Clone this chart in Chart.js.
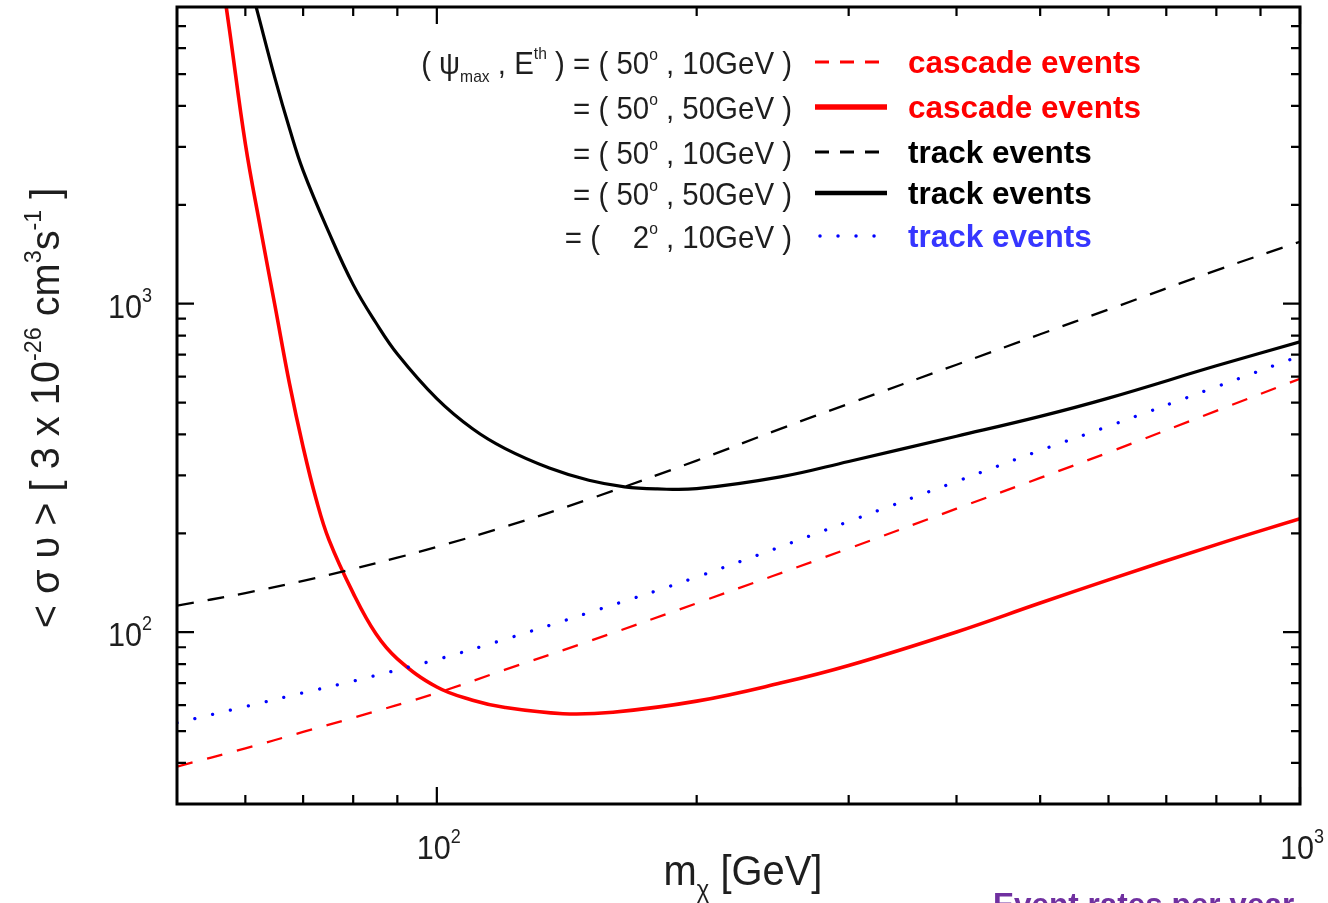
<!DOCTYPE html>
<html>
<head>
<meta charset="utf-8">
<script src="https://cdn.jsdelivr.net/npm/chart.js@4/dist/chart.umd.min.js"></script>
<style>
  html, body { margin: 0; padding: 0; background: #fff; }
  canvas { display: block; }
</style>
</head>
<body>
<canvas id="chart" width="1328" height="903"></canvas>
<script>
// dark matter mass grid (GeV) and <sigma v> limits
const massLin = [50, 60, 70, 80, 100, 120, 150, 200, 300, 400, 500, 600, 800, 1000];
const cascadeDash = [39.0, 44.3, 49.7, 54.9, 65.3, 76.9, 93.8, 122.5, 179.8, 237.7, 294.9, 352.6, 471.7, 591];
const trackDot = [53.0, 59.4, 65.4, 71.0, 82.6, 95.2, 114.7, 147.2, 217.3, 287.7, 357.4, 423.6, 558.5, 693];

const massTrackDash = [50, 60, 70, 80, 90, 100, 120, 150, 200, 250, 300, 400, 500, 600, 800, 1000];
const trackDash = [120.4, 131.6, 143.4, 155.8, 168.6, 181.8, 209.5, 254, 333, 416, 496, 652, 807, 960, 1263, 1544];

const massTrackSolid = [60, 62, 65, 67.5, 70, 75, 80, 85, 90, 100, 110, 120, 135, 150, 165, 180, 200, 250, 300, 400, 500, 600, 800, 1000];
const trackSolid = [10700, 7690, 4808, 3412, 2541, 1645, 1143, 875, 703, 514, 416, 362, 316, 290, 277, 273, 273.5, 297, 331, 395, 454, 516, 647, 766];

const massCascadeSolid = [56, 57.5, 60, 62.5, 65, 67.5, 70, 72.5, 75, 80, 85, 90, 100, 110, 120, 140, 160, 200, 250, 300, 400, 500, 600, 800, 1000];
const cascadeSolid = [11100, 6850, 3069, 1685, 972, 571, 366, 253, 191, 131.5, 98.9, 83.0, 68.1, 62.1, 59.0, 56.5, 57.1, 61.7, 70.0, 79.2, 100.2, 122.7, 144.3, 184.8, 221.6];

// axis ticks
const xMajor = [100, 1000];
const xMinor = [60, 70, 80, 90, 200, 300, 400, 500, 600, 700, 800, 900];
const yMajor = [100, 1000];
const yMinor = [40, 50, 60, 70, 80, 90, 200, 300, 400, 500, 600, 700, 800, 900, 2000, 3000, 4000, 5000, 6000, 7000];
const xTickLabels = ['2', '3'];   // exponents of 10
const yTickLabels = ['2', '3'];

const FONT = '"Liberation Sans", Arial, Helvetica, sans-serif';

function pts(xs, ys) {
  return xs.map((x, i) => ({ x: x, y: ys[i] }));
}

// draw a run of text pieces (sub/superscripts) in one go
function drawRich(ctx, segs, x, y, align, sx) {
  sx = sx || 1;
  let w = 0;
  segs.forEach(s => {
    ctx.font = (s.bold ? 'bold ' : '') + s.size + 'px ' + FONT;
    s.w = ctx.measureText(s.t).width;
    w += s.w;
  });
  let cx = align === 'right' ? -w : align === 'center' ? -w / 2 : 0;
  ctx.save();
  ctx.translate(x, y);
  ctx.scale(sx, 1);
  ctx.textAlign = 'left';
  ctx.textBaseline = 'alphabetic';
  segs.forEach(s => {
    ctx.font = (s.bold ? 'bold ' : '') + s.size + 'px ' + FONT;
    ctx.fillStyle = s.color || '#1e1e1e';
    ctx.fillText(s.t, cx, s.dy || 0);
    cx += s.w;
  });
  ctx.restore();
  return w * sx;
}

function pow10(exp) {
  return [{ t: '10', size: 34 }, { t: exp, size: 20, dy: -16 }];
}

const framePlugin = {
  id: 'frame',
  afterDatasetsDraw(chart) {
    const ctx = chart.ctx;
    const a = chart.chartArea;
    const xs = chart.scales.x, ys = chart.scales.y;
    ctx.save();
    ctx.strokeStyle = '#000';
    ctx.lineWidth = 2.2;
    ctx.beginPath();
    const tick = (v, len, horiz) => {
      if (horiz) {
        const p = xs.getPixelForValue(v);
        ctx.moveTo(p, a.bottom); ctx.lineTo(p, a.bottom - len);
        ctx.moveTo(p, a.top); ctx.lineTo(p, a.top + len);
      } else {
        const p = ys.getPixelForValue(v);
        ctx.moveTo(a.left, p); ctx.lineTo(a.left + len, p);
        ctx.moveTo(a.right, p); ctx.lineTo(a.right - len, p);
      }
    };
    xMajor.forEach(v => tick(v, 17, true));
    xMinor.forEach(v => tick(v, 9, true));
    yMajor.forEach(v => tick(v, 17, false));
    yMinor.forEach(v => tick(v, 9, false));
    ctx.stroke();
    ctx.lineWidth = 3;
    ctx.strokeRect(a.left, a.top, a.right - a.left, a.bottom - a.top);
    ctx.restore();
  },
  afterDraw(chart) {
    const ctx = chart.ctx;
    const xs = chart.scales.x, ys = chart.scales.y;

    // tick labels
    xMajor.forEach((v, i) => drawRich(ctx, pow10(xTickLabels[i]), xs.getPixelForValue(v) + 2, 859, 'center', 0.9));
    yMajor.forEach((v, i) => drawRich(ctx, pow10(yTickLabels[i]), 152, ys.getPixelForValue(v) + 14, 'right', 0.9));

    // x title
    drawRich(ctx, [
      { t: 'm', size: 42 },
      { t: 'χ', size: 25, dy: 13 },
      { t: ' [GeV]', size: 42 }
    ], 743, 885, 'center', 0.95);

    // y title
    ctx.save();
    ctx.translate(59, 408);
    ctx.rotate(-Math.PI / 2);
    drawRich(ctx, [
      { t: '< σ υ > [ 3 x 10', size: 41 },
      { t: '-26', size: 24, dy: -18 },
      { t: ' cm', size: 41 },
      { t: '3', size: 24, dy: -18 },
      { t: 's', size: 41 },
      { t: '-1', size: 24, dy: -18 },
      { t: ' ]', size: 41 }
    ], 0, 0, 'center', 0.97);
    ctx.restore();

    // legend
    const rows = [62, 107, 152, 193, 236];
    const S = 32, s = 17;
    drawRich(ctx, [
      { t: '( ψ', size: S },
      { t: 'max', size: s, dy: 8 },
      { t: ' , E', size: S },
      { t: 'th', size: s, dy: -15 },
      { t: ' ) = ( 50', size: S },
      { t: 'o', size: s, dy: -14 },
      { t: ' , 10GeV )', size: S }
    ], 792, rows[0] + 12, 'right', 0.92);
    const eq = [['50', '50GeV'], ['50', '10GeV'], ['50', '50GeV'], ['   2', '10GeV']];
    eq.forEach((e, i) => drawRich(ctx, [
      { t: '= ( ' + e[0], size: S },
      { t: 'o', size: s, dy: -14 },
      { t: ' , ' + e[1] + ' )', size: S }
    ], 792, rows[i + 1] + 12, 'right', 0.92));

    const samples = [
      { color: '#ff0000', width: 3, dash: [14, 11], cap: 'butt' },
      { color: '#ff0000', width: 5.5, dash: [], cap: 'butt' },
      { color: '#000000', width: 3, dash: [14, 11], cap: 'butt' },
      { color: '#000000', width: 4.5, dash: [], cap: 'butt' },
      { color: '#0000ff', width: 3.5, dash: [0.01, 18], cap: 'round' }
    ];
    samples.forEach((m, i) => {
      ctx.save();
      ctx.strokeStyle = m.color;
      ctx.lineWidth = m.width;
      ctx.setLineDash(m.dash);
      ctx.lineCap = m.cap;
      ctx.beginPath();
      const x0 = m.cap === 'round' ? 820 : 815;
      ctx.moveTo(x0, rows[i]);
      ctx.lineTo(887, rows[i]);
      ctx.stroke();
      ctx.restore();
    });
    const labels = [
      ['cascade events', '#ff0000'],
      ['cascade events', '#ff0000'],
      ['track events', '#000000'],
      ['track events', '#000000'],
      ['track events', '#3636ff']
    ];
    labels.forEach((l, i) => drawRich(ctx, [{ t: l[0], size: 31.5, bold: true, color: l[1] }], 908, rows[i] + 11, 'left', 1));

    // caption cut by the bottom edge
    drawRich(ctx, [{ t: 'Event rates per year', size: 31.5, bold: true, color: '#7030a0' }], 993, 915, 'left', 1);
  }
};

new Chart(document.getElementById('chart').getContext('2d'), {
  type: 'line',
  data: {
    datasets: [
      {
        label: '(50°, 10GeV) cascade events',
        data: pts(massLin, cascadeDash),
        borderColor: '#ff0000',
        borderWidth: 2.3,
        borderDash: [16, 15]
      },
      {
        label: '(2°, 10GeV) track events',
        data: pts(massLin, trackDot),
        borderColor: '#0000ff',
        borderWidth: 3.3,
        borderDash: [0.01, 18.3],
        borderCapStyle: 'round'
      },
      {
        label: '(50°, 10GeV) track events',
        data: pts(massTrackDash, trackDash),
        borderColor: '#000000',
        borderWidth: 2.3,
        borderDash: [17, 14]
      },
      {
        label: '(50°, 50GeV) track events',
        data: pts(massTrackSolid, trackSolid),
        borderColor: '#000000',
        borderWidth: 3.2
      },
      {
        label: '(50°, 50GeV) cascade events',
        data: pts(massCascadeSolid, cascadeSolid),
        borderColor: '#ff0000',
        borderWidth: 3.6
      }
    ]
  },
  options: {
    responsive: false,
    animation: false,
    devicePixelRatio: 1,
    layout: { padding: { left: 177, right: 28, top: 7, bottom: 99 } },
    plugins: { legend: { display: false }, tooltip: { enabled: false } },
    elements: {
      point: { radius: 0 },
      line: { tension: 0.4, fill: false }
    },
    scales: {
      x: { type: 'logarithmic', min: 50, max: 1000, display: false },
      y: { type: 'logarithmic', min: 30, max: 8000, display: false }
    }
  },
  plugins: [framePlugin]
});
</script>
</body>
</html>
